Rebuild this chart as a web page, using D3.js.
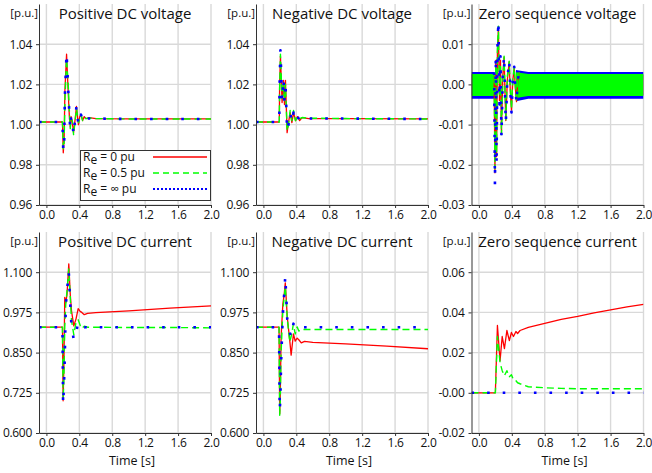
<!DOCTYPE html>
<html lang="en">
<head>
<meta charset="UTF-8">
<title>DC fault responses</title>
<script src="https://cdnjs.cloudflare.com/ajax/libs/d3/7.8.5/d3.min.js"></script>
<style>
    body { margin:0; background:#fff; }
    #CHART { display:block; font-family:"Open Sans", sans-serif; }
    #CHART .tick text { font-size:12px; letter-spacing:-0.3px; fill:#111; font-family:"Open Sans", sans-serif; }
    #CHART .domain, #CHART .tick line { stroke:#333; }
    #CHART .title { font-size:15px; fill:#111; text-anchor:middle; }
    #CHART .unit { font-size:11.5px; fill:#111; text-anchor:end; }
    #CHART .xlab { font-size:12.5px; fill:#111; text-anchor:middle; }
    #CHART .grid line { stroke:#d9d9d9; stroke-width:1.4; }
    #CHART .leg text { font-size:12px; fill:#111; }
</style>
</head>
<body>
<svg id="CHART" width="652" height="473"></svg>
<script>
/******** data ********/
const X_DOMAIN = [-0.09, 2.0];
const X_TICKS = [0, 0.4, 0.8, 1.2, 1.6, 2.0];
const X_LABELS = ["0.0", "0.4", "0.8", "1.2", "1.6", "2.0"];

const V_TICKS = [0.96, 0.98, 1.00, 1.02, 1.04];
const V_LABELS = ["0.96", "0.98", "1.00", "1.02", "1.04"];
const ZV_TICKS = [-0.03, -0.02, -0.01, 0, 0.01];
const ZV_LABELS = ["-0.03", "-0.02", "-0.01", "0.00", "0.01"];
const I_TICKS = [0.6, 0.725, 0.85, 0.975, 1.1];
const I_LABELS = ["0.600", "0.725", "0.850", "0.975", "1.100"];
const ZI_TICKS = [-0.02, 0, 0.02, 0.04, 0.06];
const ZI_LABELS = ["-0.02", "-0.00", "0.02", "0.04", "0.06"];

const LEGEND_NAMES = ["0", "0.5", "\u221e"];

// positive DC voltage
const T_POS_V = [-0.09, 0.195, 0.205, 0.215, 0.225, 0.245, 0.265, 0.28, 0.29, 0.30, 0.315, 0.33, 0.35, 0.365, 0.38, 0.39, 0.405, 0.42, 0.44, 0.46, 0.48, 0.52, 0.6, 1.0, 2.0];
const POS_V_R = [1.0013, 1.0013, 0.986, 0.992, 1.017, 1.035, 1.016, 1.003, 0.999, 1.004, 1.001, 0.996, 1.003, 1.009, 1.003, 1.000, 1.004, 1.005, 1.002, 1.004, 1.003, 1.0035, 1.003, 1.0028, 1.0028];
const POS_V_G = [1.0013, 1.0013, 0.988, 0.990, 1.012, 1.033, 1.020, 1.006, 0.998, 1.003, 1.002, 0.995, 1.002, 1.008, 1.004, 1.001, 1.003, 1.005, 1.002, 1.0035, 1.003, 1.0032, 1.003, 1.0028, 1.0028];
const POS_V_B = [1.0013, 1.0013, 0.987, 0.989, 1.015, 1.0355, 1.018, 1.004, 0.998, 1.004, 1.001, 0.995, 1.003, 1.009, 1.003, 1.000, 1.004, 1.005, 1.002, 1.004, 1.003, 1.003, 1.003, 1.0028, 1.0028];

// negative DC voltage
const T_NEG_V = [-0.09, 0.193, 0.197, 0.207, 0.227, 0.244, 0.256, 0.268, 0.288, 0.305, 0.325, 0.346, 0.366, 0.39, 0.415, 0.44, 0.47, 0.55, 1.0, 2.0];
const NEG_V_R = [1.0013, 1.0013, 1.020, 1.034, 1.011, 1.022, 1.010, 1.022, 0.996, 1.001, 1.006, 1.001, 1.006, 1.002, 1.004, 1.002, 1.0035, 1.003, 1.003, 1.0028];
const NEG_V_G = [1.0013, 1.0013, 1.018, 1.035, 1.013, 1.020, 1.012, 1.020, 0.997, 1.000, 1.007, 1.002, 1.007, 1.002, 1.004, 1.003, 1.0035, 1.0032, 1.003, 1.0028];
const NEG_V_B = [1.0013, 1.0013, 1.021, 1.037, 1.012, 1.023, 1.011, 1.021, 0.997, 1.000, 1.006, 1.001, 1.006, 1.002, 1.004, 1.002, 1.0035, 1.003, 1.003, 1.0028];

// zero sequence voltage: envelope of the fast ripple (null = no band) + transient swing
const T_ZV_BAND = [-0.09, 0.19, 0.20, 0.44, 0.45, 0.6, 2.0];
const ZV_BAND_B_HI = [0.0031, 0.0031, null, null, 0.0036, 0.0031, 0.0031];
const ZV_BAND_B_LO = [-0.0036, -0.0036, null, null, -0.0042, -0.0036, -0.0036];
const ZV_BAND_R_HI = [0.0024, 0.0024, null, null, 0.0028, 0.0024, 0.0024];
const ZV_BAND_R_LO = [-0.0027, -0.0027, null, null, -0.0031, -0.0027, -0.0027];
const ZV_BAND_G_HI = [0.0026, 0.0026, null, null, 0.0030, 0.0026, 0.0026];
const ZV_BAND_G_LO = [-0.0029, -0.0029, null, null, -0.0034, -0.0029, -0.0029];
const T_ZV = [0.185, 0.195, 0.205, 0.215, 0.225, 0.237, 0.25, 0.262, 0.274, 0.29, 0.306, 0.317, 0.327, 0.345, 0.368, 0.382, 0.396, 0.412, 0.429, 0.443, 0.457, 0.473, 0.49];
const ZV_R = [0.002, -0.022, 0.006, -0.018, 0.008, 0.014, -0.004, 0.006, -0.012, 0.002, 0.0068, -0.002, -0.009, 0.001, 0.0056, -0.002, -0.0064, 0.001, 0.004, -0.001, -0.0043, 0.001, 0.003];
const ZV_G = [0.002, -0.021, 0.005, -0.017, 0.009, 0.0145, -0.003, 0.005, -0.0125, 0.001, 0.007, -0.001, -0.0088, 0.002, 0.0058, -0.001, -0.0062, 0.0015, 0.0042, -0.0005, -0.0042, 0.0012, 0.003];
const ZV_B = [0.003, -0.025, 0.007, -0.020, 0.009, 0.0158, -0.005, 0.007, -0.013, 0.002, 0.0072, -0.002, -0.0095, 0.001, 0.006, -0.002, -0.007, 0.001, 0.0044, -0.001, -0.0047, 0.001, 0.0033];

// positive DC current
const T_POS_I = [-0.09, 0.195, 0.203, 0.212, 0.223, 0.235, 0.25, 0.272, 0.29, 0.305, 0.333, 0.36, 0.386, 0.41, 0.43, 0.46, 0.5, 0.6, 1.0, 1.5, 2.0];
const POS_I_R = [0.929, 0.929, 0.70, 0.80, 1.022, 1.005, 1.03, 1.126, 1.03, 0.98, 0.933, 0.955, 0.987, 0.978, 0.975, 0.968, 0.972, 0.974, 0.98, 0.988, 0.995];
const POS_I_G = [0.929, 0.929, 0.705, 0.76, 0.93, 1.0, 1.04, 1.11, 1.02, 0.95, 0.905, 0.945, 0.952, 0.935, 0.925, 0.932, 0.929, 0.929, 0.928, 0.928, 0.927];
const POS_I_B = [0.929, 0.929, 0.69, 0.74, 0.83, 0.995, 1.04, 1.101, 1.0, 0.931, 0.89, 0.91, 0.945, 0.94, 0.93, 0.929, 0.929, 0.929, 0.929, 0.929, 0.929];

// negative DC current
const T_NEG_I = [-0.09, 0.19, 0.198, 0.205, 0.215, 0.236, 0.252, 0.266, 0.29, 0.32, 0.337, 0.365, 0.386, 0.41, 0.43, 0.46, 0.5, 0.6, 1.0, 1.5, 2.0];
const NEG_I_R = [0.929, 0.929, 0.66, 0.72, 0.898, 1.0, 1.03, 1.067, 0.96, 0.888, 0.842, 0.908, 0.886, 0.895, 0.89, 0.88, 0.885, 0.882, 0.877, 0.870, 0.862];
const NEG_I_G = [0.929, 0.929, 0.655, 0.70, 0.85, 0.98, 1.02, 1.055, 0.955, 0.883, 0.90, 0.939, 0.908, 0.93, 0.917, 0.922, 0.922, 0.922, 0.922, 0.922, 0.922];
const NEG_I_B = [0.929, 0.929, 0.672, 0.70, 0.82, 0.97, 1.03, 1.088, 0.954, 0.913, 0.90, 0.94, 0.926, 0.926, 0.929, 0.929, 0.929, 0.929, 0.929, 0.929, 0.929];

// zero sequence current
const T_ZI = [-0.09, 0.2, 0.225, 0.257, 0.283, 0.31, 0.34, 0.37, 0.395, 0.42, 0.45, 0.47, 0.5, 0.6, 0.8, 1.0, 1.2, 1.4, 1.6, 1.8, 2.0];
const ZI_R = [0, 0, 0.0335, 0.016, 0.028, 0.022, 0.031, 0.026, 0.030, 0.028, 0.0305, 0.0295, 0.031, 0.0325, 0.0345, 0.0365, 0.038, 0.0398, 0.0413, 0.0428, 0.044];
const ZI_G = [0, 0, 0.028, 0.015, 0.011, 0.0085, 0.011, 0.008, 0.009, 0.0065, 0.006, 0.005, 0.0045, 0.003, 0.0025, 0.0022, 0.002, 0.002, 0.002, 0.002, 0.002];
const ZI_B = [0, 0, 0, 0, 0, 0, 0, 0, 0, 0, 0, 0, 0, 0, 0, 0, 0, 0, 0, 0, 0];

/******** layout ********/
const COL_LEFT = [39, 256, 471.5];
const PLOT_W = 172;
const ROW_TOP = [4, 232];
const PLOT_H = 201;

const STYLES = [
    { color: "#ff0000", width: 1.3, dash: null,     legDash: null },
    { color: "#00ff00", width: 1.4, dash: "7,4",    legDash: "6,4" },
    { color: "#0000ff", width: 2.6, dash: "2.6,13", legDash: "2,2" }
];

const svg = d3.select("#CHART");

function zip(t, v) {
    return t.map(function(d, i) { return { t: d, v: v[i] }; });
}

const panels = [
    { title: "Positive DC voltage", col: 0, row: 0, yDomain: [0.96, 1.06], yTicks: V_TICKS, yLabels: V_LABELS,
      series: [zip(T_POS_V, POS_V_R), zip(T_POS_V, POS_V_G), zip(T_POS_V, POS_V_B)], legend: true },
    { title: "Negative DC voltage", col: 1, row: 0, yDomain: [0.96, 1.06], yTicks: V_TICKS, yLabels: V_LABELS,
      series: [zip(T_NEG_V, NEG_V_R), zip(T_NEG_V, NEG_V_G), zip(T_NEG_V, NEG_V_B)] },
    { title: "Zero sequence voltage", col: 2, row: 0, yDomain: [-0.03, 0.02], yTicks: ZV_TICKS, yLabels: ZV_LABELS,
      series: [zip(T_ZV, ZV_R), zip(T_ZV, ZV_G), zip(T_ZV, ZV_B)],
      bands: [
          { i: 2, t: T_ZV_BAND, lo: ZV_BAND_B_LO, hi: ZV_BAND_B_HI },
          { i: 0, t: T_ZV_BAND, lo: ZV_BAND_R_LO, hi: ZV_BAND_R_HI },
          { i: 1, t: T_ZV_BAND, lo: ZV_BAND_G_LO, hi: ZV_BAND_G_HI }
      ] },
    { title: "Positive DC current", col: 0, row: 1, yDomain: [0.6, 1.225], yTicks: I_TICKS, yLabels: I_LABELS,
      series: [zip(T_POS_I, POS_I_R), zip(T_POS_I, POS_I_G), zip(T_POS_I, POS_I_B)] },
    { title: "Negative DC current", col: 1, row: 1, yDomain: [0.6, 1.225], yTicks: I_TICKS, yLabels: I_LABELS,
      series: [zip(T_NEG_I, NEG_I_R), zip(T_NEG_I, NEG_I_G), zip(T_NEG_I, NEG_I_B)] },
    { title: "Zero sequence current", col: 2, row: 1, yDomain: [-0.02, 0.08], yTicks: ZI_TICKS, yLabels: ZI_LABELS,
      series: [zip(T_ZI, ZI_R), zip(T_ZI, ZI_G), zip(T_ZI, ZI_B)] }
];

function drawPanel(p, k) {
    const left = COL_LEFT[p.col], top = ROW_TOP[p.row];
    const x = d3.scaleLinear().domain(X_DOMAIN).range([left, left + PLOT_W]);
    const y = d3.scaleLinear().domain(p.yDomain).range([top + PLOT_H, top]);
    const g = svg.append("g");

    // grid
    const grid = g.append("g").attr("class", "grid");
    grid.selectAll("line.gx").data(X_TICKS).join("line").attr("class", "gx")
        .attr("x1", function(d){ return x(d); }).attr("x2", function(d){ return x(d); })
        .attr("y1", top).attr("y2", top + PLOT_H);
    grid.selectAll("line.gy").data(p.yTicks).join("line").attr("class", "gy")
        .attr("x1", left).attr("x2", left + PLOT_W)
        .attr("y1", function(d){ return y(d); }).attr("y2", function(d){ return y(d); });

    // clip
    svg.append("clipPath").attr("id", "clip" + k).append("rect")
        .attr("x", left).attr("y", top).attr("width", PLOT_W).attr("height", PLOT_H);
    const plot = g.append("g").attr("clip-path", "url(#clip" + k + ")");

    // ripple bands
    (p.bands || []).forEach(function(b) {
        const rows = b.t.map(function(t, i){ return { t: t, lo: b.lo[i], hi: b.hi[i] }; });
        const area = d3.area()
            .defined(function(d){ return d.lo !== null; })
            .x(function(d){ return x(d.t); })
            .y0(function(d){ return y(d.lo); })
            .y1(function(d){ return y(d.hi); });
        plot.append("path").datum(rows).attr("d", area).attr("fill", STYLES[b.i].color);
    });

    // series
    const line = d3.line().x(function(d){ return x(d.t); }).y(function(d){ return y(d.v); });
    p.series.forEach(function(s, i) {
        plot.append("path").datum(s).attr("d", line)
            .attr("fill", "none")
            .attr("stroke", STYLES[i].color)
            .attr("stroke-width", STYLES[i].width)
            .attr("stroke-dasharray", STYLES[i].dash)
            .attr("stroke-linejoin", "round");
    });

    // axes
    g.append("g").attr("transform", "translate(" + left + ",0)")
        .call(d3.axisLeft(y).tickValues(p.yTicks).tickFormat(function(d, i){ return p.yLabels[i]; })
            .tickSize(3).tickSizeOuter(0).tickPadding(4));
    g.append("g").attr("transform", "translate(0," + (top + PLOT_H) + ")")
        .call(d3.axisBottom(x).tickValues(X_TICKS).tickFormat(function(d, i){ return X_LABELS[i]; })
            .tickSize(3).tickSizeOuter(0).tickPadding(2.5));

    // texts
    g.append("text").attr("class", "title").attr("x", left + PLOT_W / 2).attr("y", top + 14.5).text(p.title);
    g.append("text").attr("class", "unit").attr("x", left - 1).attr("y", top + 13).text("[p.u.]");
    if (p.row === 1) {
        g.append("text").attr("class", "xlab").attr("x", left + PLOT_W / 2 + 7).attr("y", 465).text("Time [s]");
    }

    if (p.legend) {
        const lg = g.append("g").attr("class", "leg");
        lg.append("rect").attr("x", 80.5).attr("y", 150.5).attr("width", 130).attr("height", 50)
            .attr("fill", "#fff").attr("stroke", "#333").attr("stroke-width", 1);
        LEGEND_NAMES.forEach(function(n, i) {
            const by = 161 + i * 16;
            const t = lg.append("text").attr("x", 83).attr("y", by);
            t.append("tspan").text("R");
            t.append("tspan").attr("dy", 3).text("e");
            t.append("tspan").attr("dy", -3).text(" = " + n + " pu");
            lg.append("line").attr("x1", 153).attr("x2", 207).attr("y1", by - 4).attr("y2", by - 4)
                .attr("stroke", STYLES[i].color).attr("stroke-width", i === 2 ? 2 : 1.3)
                .attr("stroke-dasharray", STYLES[i].legDash);
        });
    }
}

panels.forEach(drawPanel);
</script>
</body>
</html>
